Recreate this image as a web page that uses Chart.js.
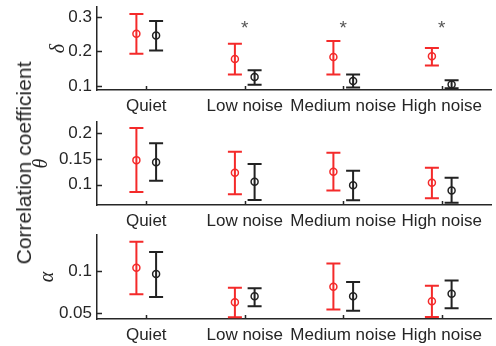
<!DOCTYPE html>
<html>
<head>
<meta charset="utf-8">
<script src="https://cdn.jsdelivr.net/npm/chart.js@4.4.1/dist/chart.umd.min.js"></script>
<style>
  html, body { margin: 0; padding: 0; background: #fff; }
  #wrap { position: relative; width: 496px; height: 346px; overflow: hidden; }
  .panel { position: absolute; left: 0; width: 496px; }
  #ylabel {
    position: absolute; left: 24px; top: 163px;
    transform: translate(-50%, -50%) rotate(-90deg);
    font: 21px 'Liberation Sans', Arial, sans-serif;
    color: #262626; white-space: nowrap;
  }
</style>
</head>
<body>
<div id="wrap">
  <div class="panel" style="top:0px;height:118px"><canvas id="deltaChart"></canvas></div>
  <div class="panel" style="top:115px;height:118px"><canvas id="thetaChart"></canvas></div>
  <div class="panel" style="top:228px;height:119px"><canvas id="alphaChart"></canvas></div>
  <div id="ylabel">Correlation coefficient</div>
</div>
<script>
const categories = ['Quiet', 'Low noise', 'Medium noise', 'High noise'];

// delta band
const deltaRed = [0.251, 0.178, 0.184, 0.186];
const deltaRedLo = [0.193, 0.133, 0.133, 0.159];
const deltaRedHi = [0.309, 0.222, 0.230, 0.210];
const deltaBlack = [0.246, 0.126, 0.114, 0.104];
const deltaBlackLo = [0.203, 0.103, 0.095, 0.093];
const deltaBlackHi = [0.288, 0.145, 0.133, 0.116];
const deltaTicks = [0.1, 0.2, 0.3];
const deltaStars = [null, 0.275, 0.275, 0.275];

// theta band
const thetaRed = [0.1475, 0.123, 0.125, 0.104];
const thetaRedLo = [0.086, 0.0815, 0.089, 0.074];
const thetaRedHi = [0.2096, 0.1635, 0.1615, 0.133];
const thetaBlack = [0.1436, 0.1058, 0.099, 0.089];
const thetaBlackLo = [0.1077, 0.0706, 0.070, 0.0655];
const thetaBlackHi = [0.180, 0.140, 0.127, 0.1135];
const thetaTicks = [0.1, 0.15, 0.2];

// alpha band
const alphaRed = [0.104, 0.0628, 0.0812, 0.064];
const alphaRedLo = [0.0724, 0.045, 0.054, 0.0452];
const alphaRedHi = [0.135, 0.080, 0.109, 0.0825];
const alphaBlack = [0.0964, 0.0699, 0.070, 0.0728];
const alphaBlackLo = [0.069, 0.058, 0.0525, 0.0557];
const alphaBlackHi = [0.1228, 0.0796, 0.0868, 0.0888];
const alphaTicks = [0.05, 0.1];

const RED = '#f42a2a';
const BLACK = '#222222';
const AXIS = '#262626';
const FONT = "'Liberation Sans', Arial, sans-serif";

// vertical error bars with caps, drawn through the chart scales
const errorBars = {
  id: 'errorBars',
  beforeDatasetsDraw(chart) {
    const { ctx, scales: { x, y } } = chart;
    ctx.save();
    chart.data.datasets.forEach(ds => {
      ctx.strokeStyle = ds.borderColor;
      ctx.lineWidth = 2;
      ds.data.forEach((p, i) => {
        const px = x.getPixelForValue(p.x);
        const top = y.getPixelForValue(ds.errHi[i]);
        const bot = y.getPixelForValue(ds.errLo[i]);
        ctx.beginPath();
        ctx.moveTo(px, top); ctx.lineTo(px, bot);
        ctx.moveTo(px - 7, top); ctx.lineTo(px + 7, top);
        ctx.moveTo(px - 7, bot); ctx.lineTo(px + 7, bot);
        ctx.stroke();
      });
    });
    ctx.restore();
  },
  afterDraw(chart) {
    const { ctx, chartArea: a, scales: { x, y } } = chart;
    ctx.save();
    ctx.strokeStyle = AXIS;
    ctx.lineWidth = 1.5;
    ctx.beginPath();
    y.ticks.forEach(t => {
      const py = Math.round(y.getPixelForValue(t.value)) + 0.5;
      ctx.moveTo(a.left, py); ctx.lineTo(a.left + 5, py);
    });
    x.ticks.forEach(t => {
      const px = Math.round(x.getPixelForValue(t.value)) + 0.5;
      ctx.moveTo(px, a.bottom); ctx.lineTo(px, a.bottom - 4);
    });
    ctx.stroke();
    // significance stars
    const stars = chart.options.plugins.errorBars.stars;
    if (stars) {
      ctx.fillStyle = '#555555';
      ctx.font = '19px ' + FONT;
      ctx.textAlign = 'center';
      ctx.textBaseline = 'middle';
      stars.forEach((v, i) => {
        if (v == null) return;
        ctx.fillText('*', x.getPixelForValue(i + 1), y.getPixelForValue(v) + 3);
      });
    }
    ctx.restore();
  }
};

function series(vals, lo, hi, color, shift) {
  return {
    data: vals.map((v, i) => ({ x: i + 1 + shift, y: v })),
    errLo: lo,
    errHi: hi,
    borderColor: color,
    backgroundColor: 'rgba(0,0,0,0)',
    pointRadius: 3.5,
    pointBorderWidth: 1.5,
    pointHoverRadius: 3.5
  };
}

function makePanel(id, title, padLeft, yMin, yMax, yTicks, datasets, stars) {
  return new Chart(document.getElementById(id), {
    type: 'scatter',
    data: { datasets },
    options: {
      responsive: true,
      maintainAspectRatio: false,
      animation: false,
      layout: { padding: { top: 7, left: padLeft, right: 1, bottom: 0 } },
      plugins: {
        legend: { display: false },
        tooltip: { enabled: false },
        errorBars: { stars }
      },
      scales: {
        x: {
          type: 'linear', min: 0.5, max: 4.5,
          afterBuildTicks: s => { s.ticks = categories.map((c, i) => ({ value: i + 1 })); },
          afterFit: s => { s.height = 28; s.paddingLeft = 0; s.paddingRight = 0; },
          ticks: {
            autoSkip: false, maxRotation: 0, padding: 6,
            color: AXIS, font: { family: FONT, size: 17 },
            callback: v => categories[Math.round(v) - 1]
          },
          grid: { display: false, drawTicks: false },
          border: { display: true, color: AXIS, width: 1.5 }
        },
        y: {
          min: yMin, max: yMax,
          afterBuildTicks: s => { s.ticks = yTicks.map(v => ({ value: v })); },
          afterFit: s => { s.width = 97 - padLeft; s.paddingTop = 0; s.paddingBottom = 0; },
          ticks: {
            padding: 5, color: AXIS, font: { family: FONT, size: 17 },
            callback: v => String(v)
          },
          grid: { display: false, drawTicks: false },
          border: { display: true, color: AXIS, width: 1.5 },
          title: {
            display: true, text: title, color: AXIS, padding: 0,
            font: { family: "'Liberation Serif', 'Times New Roman', serif", size: 20, style: 'italic' }
          }
        }
      }
    },
    plugins: [errorBars]
  });
}

makePanel('deltaChart', 'δ', 47, 0.088, 0.329, deltaTicks, [
  series(deltaRed, deltaRedLo, deltaRedHi, RED, -0.1),
  series(deltaBlack, deltaBlackLo, deltaBlackHi, BLACK, 0.1)
], deltaStars);

makePanel('thetaChart', 'θ', 30, 0.061, 0.221, thetaTicks, [
  series(thetaRed, thetaRedLo, thetaRedHi, RED, -0.1),
  series(thetaBlack, thetaBlackLo, thetaBlackHi, BLACK, 0.1)
], null);

makePanel('alphaChart', 'α', 36, 0.0428, 0.143, alphaTicks, [
  series(alphaRed, alphaRedLo, alphaRedHi, RED, -0.1),
  series(alphaBlack, alphaBlackLo, alphaBlackHi, BLACK, 0.1)
], null);
</script>
</body>
</html>
